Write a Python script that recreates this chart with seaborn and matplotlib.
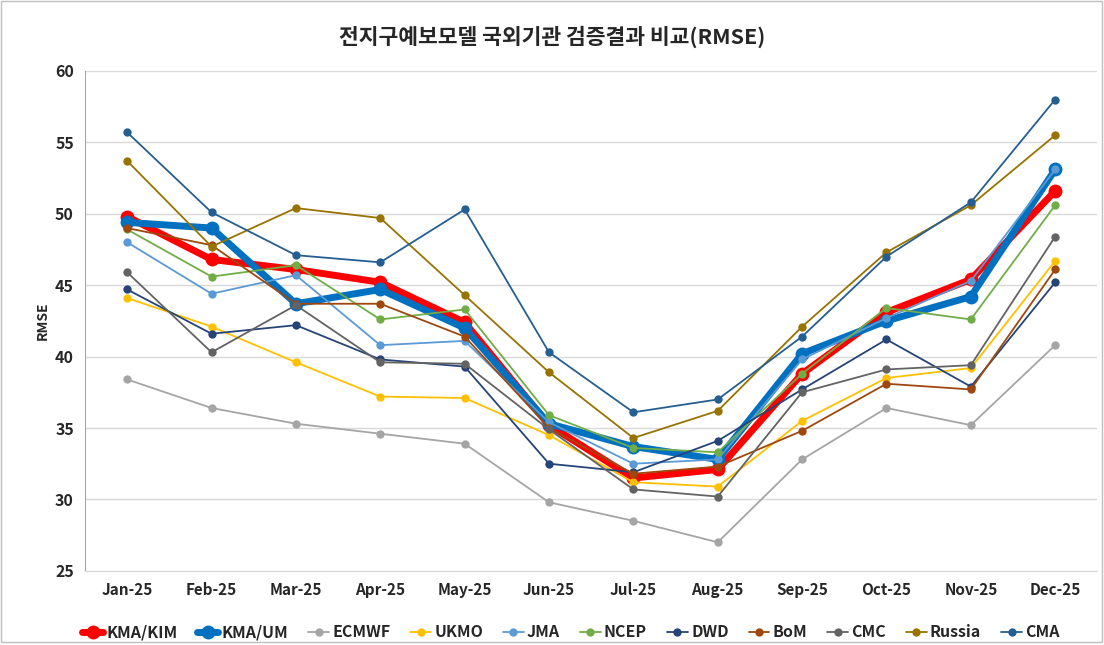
import matplotlib.pyplot as plt
import pandas as pd
import seaborn as sns
from matplotlib.lines import Line2D
from matplotlib.patches import Rectangle

sns.set_style("white")
plt.rcParams["font.family"] = ["Noto Sans CJK KR", "DejaVu Sans"]
plt.rcParams["axes.unicode_minus"] = False

MONTHS = ["Jan-25", "Feb-25", "Mar-25", "Apr-25", "May-25", "Jun-25",
          "Jul-25", "Aug-25", "Sep-25", "Oct-25", "Nov-25", "Dec-25"]

KMA_KIM = [49.8, 46.8, 46.1, 45.2, 42.4, 35.2, 31.5, 32.1, 38.8, 43.1, 45.4, 51.6]
KMA_UM = [49.4, 49.0, 43.7, 44.7, 42.0, 35.3, 33.7, 32.8, 40.2, 42.5, 44.2, 53.1]
ECMWF = [38.4, 36.4, 35.3, 34.6, 33.9, 29.8, 28.5, 27.0, 32.8, 36.4, 35.2, 40.8]
UKMO = [44.1, 42.1, 39.6, 37.2, 37.1, 34.5, 31.2, 30.9, 35.5, 38.5, 39.2, 46.7]
JMA = [48.0, 44.4, 45.7, 40.8, 41.1, 35.4, 32.5, 32.8, 39.8, 42.7, 45.3, 53.1]
NCEP = [48.9, 45.6, 46.4, 42.6, 43.3, 35.9, 33.6, 33.3, 38.8, 43.4, 42.6, 50.6]
DWD = [44.7, 41.6, 42.2, 39.8, 39.3, 32.5, 31.9, 34.1, 37.7, 41.2, 37.9, 45.2]
BOM = [49.0, 47.8, 43.7, 43.7, 41.4, 35.0, 31.8, 32.3, 34.8, 38.1, 37.7, 46.1]
CMC = [45.9, 40.3, 43.6, 39.6, 39.5, 34.9, 30.7, 30.2, 37.5, 39.1, 39.4, 48.4]
RUSSIA = [53.7, 47.7, 50.4, 49.7, 44.3, 38.9, 34.3, 36.2, 42.1, 47.3, 50.6, 55.5]
CMA = [55.7, 50.1, 47.1, 46.6, 50.3, 40.3, 36.1, 37.0, 41.4, 47.0, 50.8, 58.0]

SERIES = {
    "KMA/KIM": KMA_KIM, "KMA/UM": KMA_UM, "ECMWF": ECMWF, "UKMO": UKMO,
    "JMA": JMA, "NCEP": NCEP, "DWD": DWD, "BoM": BOM, "CMC": CMC,
    "Russia": RUSSIA, "CMA": CMA,
}

COLORS = {
    "KMA/KIM": "#FF0000", "KMA/UM": "#0070C0", "ECMWF": "#A5A5A5",
    "UKMO": "#FFC000", "JMA": "#5B9BD5", "NCEP": "#70AD47", "DWD": "#264478",
    "BoM": "#9E480E", "CMC": "#636363", "Russia": "#997300", "CMA": "#255E91",
}

THICK = {"KMA/KIM", "KMA/UM"}


def build_frame() -> pd.DataFrame:
    rows = []
    for name, values in SERIES.items():
        for i, v in enumerate(values):
            rows.append({"model": name, "x": i, "rmse": v})
    return pd.DataFrame(rows)


def main() -> None:
    df = build_frame()
    fig, ax = plt.subplots(figsize=(11.04, 6.45), dpi=100)
    fig.subplots_adjust(left=0.077, right=0.994, top=0.89, bottom=0.115)

    handles = []
    for z, name in enumerate(SERIES):
        sub = df[df["model"] == name]
        thick = name in THICK
        lw = 5 if thick else 1.3
        ms = 10 if thick else 6
        sns.lineplot(data=sub, x="x", y="rmse", ax=ax, color=COLORS[name],
                     linewidth=lw, marker="o", markersize=ms,
                     markeredgewidth=0, zorder=3 + z, legend=False)
        handles.append(Line2D([0], [0], color=COLORS[name], lw=lw, marker="o",
                              markersize=ms, markeredgewidth=0, label=name))

    ax.set_xlim(-0.5, 11.5)
    ax.set_ylim(25, 60)
    ax.set_yticks(range(25, 61, 5))
    ax.set_xticks(range(len(MONTHS)))
    ax.set_xticklabels(MONTHS, fontweight="bold", fontsize=11)
    for t in ax.get_yticklabels():
        t.set_fontweight("bold")
        t.set_fontsize(11.5)
    ax.tick_params(axis="both", length=0, pad=8)
    ax.set_xlabel("")
    ax.set_ylabel("RMSE", fontweight="bold", fontsize=10)
    ax.yaxis.grid(True, color="#D9D9D9", linewidth=1)
    ax.set_axisbelow(True)
    for side in ["top", "right"]:
        ax.spines[side].set_visible(False)
    ax.spines["left"].set_color("#A6A6A6")
    ax.spines["bottom"].set_color("#D9D9D9")

    fig.suptitle("전지구예보모델 국외기관 검증결과 비교(RMSE)", fontsize=15.5,
                 fontweight="bold", y=0.96)

    ax.legend(handles=handles, loc="upper center", bbox_to_anchor=(0.48, -0.078),
              ncol=11, frameon=False, handlelength=1.3, handletextpad=0.2,
              columnspacing=1.25, prop={"weight": "bold", "size": 11.5})

    fig.patches.append(Rectangle((0.001, 0.005), 0.997, 0.993, transform=fig.transFigure,
                                 fill=False, edgecolor="#BFBFBF", linewidth=1))

    fig.savefig("out.png", dpi=100)
    plt.close(fig)


if __name__ == "__main__":
    main()
